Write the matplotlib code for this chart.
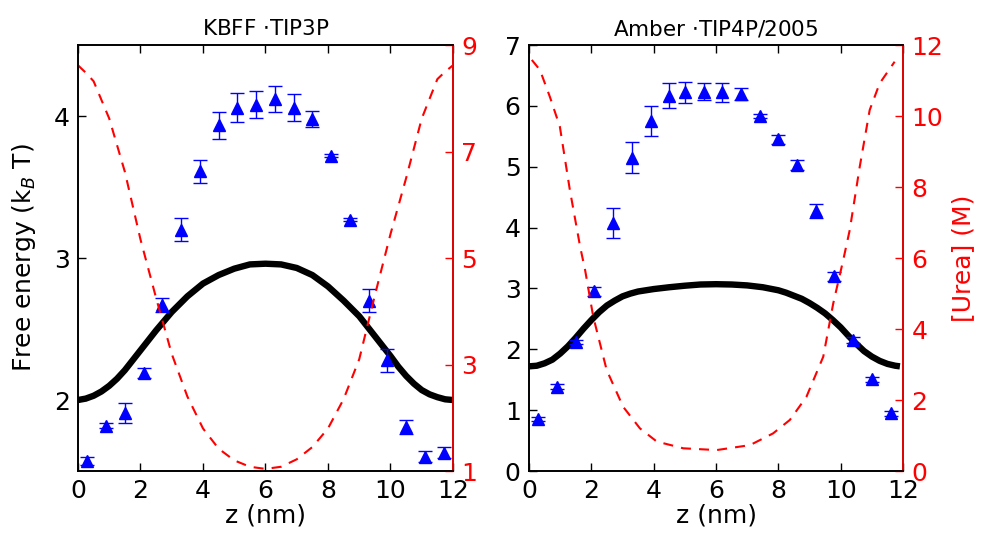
import matplotlib
matplotlib.use("Agg")
import matplotlib.pyplot as plt

# ---- left panel: KBFF / TIP3P ----
z_pts_l = [0.3, 0.9, 1.5, 2.1, 2.7, 3.3, 3.9, 4.5, 5.1, 5.7,
           6.3, 6.9, 7.5, 8.1, 8.7, 9.3, 9.9, 10.5, 11.1, 11.7]
fe_pts_l = [1.57, 1.82, 1.91, 2.19, 2.67, 3.20, 3.61, 3.935, 4.06, 4.08,
            4.12, 4.06, 3.98, 3.72, 3.27, 2.70, 2.28, 1.81, 1.60, 1.63]
err_l = [0.03, 0.02, 0.07, 0.035, 0.047, 0.08, 0.08, 0.096, 0.10, 0.096,
         0.094, 0.094, 0.054, 0.01, 0.01, 0.08, 0.08, 0.05, 0.04, 0.04]

z_line_l = [0.0, 0.25, 0.5, 0.75, 1.0, 1.25, 1.5, 1.75, 2.0, 2.5, 3.0, 3.5, 4.0, 4.5, 5.0, 5.5, 6.0,
            6.5, 7.0, 7.5, 8.0, 8.5, 9.0, 9.5, 10.0, 10.25, 10.5, 10.75, 11.0, 11.25, 11.5, 11.75, 12.0]
fe_line_l = [2.00, 2.01, 2.03, 2.06, 2.10, 2.15, 2.21, 2.28, 2.35, 2.49, 2.62, 2.73, 2.82, 2.88, 2.925, 2.955, 2.96,
             2.955, 2.93, 2.88, 2.80, 2.70, 2.59, 2.45, 2.31, 2.235, 2.17, 2.115, 2.07, 2.04, 2.02, 2.005, 2.00]
z_urea_l = [0.0, 0.25, 0.5, 1.0, 1.5, 2.0, 2.5, 3.0, 3.5, 4.0, 4.5, 5.0, 5.5, 6.0,
            6.5, 7.0, 7.5, 8.0, 8.5, 9.0, 9.5, 10.0, 10.5, 11.0, 11.5, 11.75, 12.0]
urea_l = [8.62, 8.48, 8.32, 7.62, 6.62, 5.35, 4.25, 3.2, 2.4, 1.8, 1.42, 1.2, 1.08, 1.04,
          1.08, 1.22, 1.45, 1.8, 2.35, 3.1, 4.3, 5.45, 6.5, 7.62, 8.36, 8.5, 8.62]

# ---- right panel: Amber / TIP4P/2005 ----
z_pts_r = [0.3, 0.9, 1.5, 2.1, 2.7, 3.3, 3.9, 4.5, 5.0, 5.6,
           6.2, 6.8, 7.4, 8.0, 8.6, 9.2, 9.8, 10.4, 11.0, 11.6]
fe_pts_r = [0.85, 1.385, 2.12, 2.95, 4.08, 5.15, 5.75, 6.17, 6.22, 6.23,
            6.22, 6.20, 5.83, 5.45, 5.03, 4.275, 3.20, 2.16, 1.51, 0.95]
err_r = [0.03, 0.04, 0.04, 0.07, 0.25, 0.26, 0.24, 0.21, 0.18, 0.14,
         0.15, 0.10, 0.03, 0.07, 0.08, 0.12, 0.07, 0.05, 0.04, 0.04]

z_line_r = [0.0, 0.25, 0.5, 0.75, 1.0, 1.25, 1.5, 1.75, 2.0, 2.25, 2.5, 2.75, 3.0, 3.25, 3.5, 3.75,
            4.0, 4.5, 5.0, 5.5, 6.0, 6.5, 7.0, 7.5, 8.0, 8.25, 8.5, 8.75, 9.0, 9.25, 9.5, 9.75,
            10.0, 10.25, 10.5, 10.75, 11.0, 11.25, 11.5, 11.75, 11.9]
fe_line_r = [1.72, 1.73, 1.77, 1.83, 1.93, 2.05, 2.19, 2.34, 2.48, 2.61, 2.72, 2.80, 2.87, 2.915, 2.95, 2.97,
             2.99, 3.02, 3.045, 3.065, 3.07, 3.065, 3.05, 3.02, 2.97, 2.93, 2.88, 2.83, 2.76, 2.68, 2.59, 2.48,
             2.36, 2.22, 2.09, 1.97, 1.88, 1.81, 1.76, 1.73, 1.72]
z_urea_r = [0.09, 0.35, 0.67, 0.99, 1.31, 1.64, 1.8, 2.06, 2.49, 3.02, 3.56, 4.1, 4.95,
            6.02, 7.09, 7.83, 8.37, 8.9, 9.44, 9.76, 10.08, 10.29, 10.61, 10.93, 11.25, 11.73]
urea_r = [11.58, 11.3, 10.54, 9.7, 7.92, 6.32, 5.66, 4.35, 2.85, 1.81, 1.2, 0.83, 0.64,
          0.59, 0.73, 1.06, 1.44, 2.09, 3.22, 4.72, 5.94, 6.79, 8.57, 10.17, 10.92, 11.53]

plt.rcParams['font.family'] = 'DejaVu Sans'
plt.rcParams['mathtext.fontset'] = 'dejavusans'

fig = plt.figure(figsize=(9.82, 5.38), dpi=100)
ax1 = fig.add_axes([0.0794, 0.1245, 0.3819, 0.7918])
ax3 = fig.add_axes([0.5387, 0.1245, 0.3809, 0.7918])


def panel(ax, zl, fl, zp, fp, ep, zu, cu, ylim, yticks, ylim2, yticks2, title):
    ax.plot(zl, fl, color='black', lw=4.6, solid_capstyle='butt', solid_joinstyle='round', zorder=2)
    ax.errorbar(zp, fp, yerr=ep, fmt='^', color='blue', ms=8, mec='blue',
                capsize=4.7, elinewidth=1, capthick=1, zorder=3)
    ax.set_xlim(0, 12)
    ax.set_ylim(*ylim)
    ax.set_xticks(range(0, 13, 2))
    ax.set_yticks(yticks)
    ax.tick_params(direction='in', length=5.5, width=1, labelsize=18, top=True, pad=6)
    ax.set_xlabel('z (nm)', fontsize=18, labelpad=0)
    ax.set_title(title, fontsize=15.5, pad=7)
    for s in ax.spines.values():
        s.set_linewidth(1.2)
    tw = ax.twinx()
    tw.plot(zu, cu, color='red', lw=1.5, dashes=(4.8, 3.9))
    tw.set_xlim(0, 12)
    tw.set_ylim(*ylim2)
    tw.set_yticks(yticks2)
    tw.tick_params(direction='in', length=5.5, width=1, labelsize=18, colors='red', pad=6)
    tw.spines['right'].set_color('red')
    for s in tw.spines.values():
        s.set_linewidth(1.2)
    return tw


panel(ax1, z_line_l, fe_line_l, z_pts_l, fe_pts_l, err_l, z_urea_l, urea_l,
      (1.5, 4.5), [2, 3, 4], (1, 9), [1, 3, 5, 7, 9], r'KBFF $\cdot$TIP3P')
tw3 = panel(ax3, z_line_r, fe_line_r, z_pts_r, fe_pts_r, err_r, z_urea_r, urea_r,
            (0, 7), range(0, 8), (0, 12), range(0, 13, 2), r'Amber $\cdot$TIP4P/2005')

ax1.set_ylabel(r'Free energy (k$_B$ T)', fontsize=18, labelpad=11)
tw3.set_ylabel('[Urea] (M)', fontsize=18, color='red', labelpad=6)

fig.savefig('out.png', dpi=100)
